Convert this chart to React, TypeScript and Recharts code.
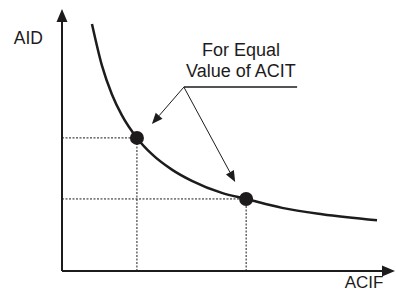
import React from 'react';
import { ComposedChart, Line, Scatter, XAxis, YAxis, ReferenceLine, ReferenceDot } from 'recharts';

// Curve (ACIF on x, AID on y, arbitrary 0-100 units)
const curveACIF = [9.0, 12.0, 15.0, 18.0, 22.5, 27.0, 33.0, 39.0, 48.0, 55.3, 66.1, 78.1, 94.6];
const curveAID = [94.3, 78.4, 67.4, 59.4, 50.8, 44.6, 38.7, 34.4, 29.8, 27.5, 24.1, 21.7, 19.4];

// Two marked points with equal ACIT
const pointACIF = [22.5, 55.3];
const pointAID = [50.8, 27.5];

// Annotation
const noteLines = ['For Equal', 'Value of ACIT'];
const noteAnchor = { x: 53.75, y: 82.1 };
const bracketStart = { x: 36.6, y: 70.2 };
const bracketEnd = { x: 70.6, y: 70.2 };
const arrowTips = [
  { x: 27.0, y: 56.1 },
  { x: 52.0, y: 34.0 },
];
const xLabel = 'ACIF';
const yLabel = 'AID';

const curve = curveACIF.map((x, i) => ({ x, y: curveAID[i] }));
const points = pointACIF.map((x, i) => ({ x, y: pointAID[i] }));

const INK = '#1e1b1c';

const makeArrow = (len: number, half: number) => (props: any) => {
  const { x1, y1, x2, y2, stroke, strokeWidth } = props;
  const ang = Math.atan2(y2 - y1, x2 - x1);
  const bx = x2 - len * Math.cos(ang);
  const by = y2 - len * Math.sin(ang);
  const px = -Math.sin(ang) * half;
  const py = Math.cos(ang) * half;
  return (
    <g>
      <line x1={x1} y1={y1} x2={bx} y2={by} stroke={stroke} strokeWidth={strokeWidth} />
      <polygon points={`${x2},${y2} ${bx + px},${by + py} ${bx - px},${by - py}`} fill={stroke} />
    </g>
  );
};

const axisArrow = makeArrow(13, 5.5);
const noteArrow = makeArrow(11, 4.5);

const textShape = (lines: string[], anchor: string, dx: number, dy: number, size: number, lh: number) => (props: any) => (
  <text
    x={props.cx + dx}
    y={props.cy + dy}
    textAnchor={anchor}
    fontFamily="'Liberation Sans', Arial, sans-serif"
    fontSize={size}
    fill={INK}
  >
    {lines.map((l, i) => (
      <tspan key={i} x={props.cx + dx} dy={i === 0 ? 0 : lh}>
        {l}
      </tspan>
    ))}
  </text>
);

export default function App() {
  return (
    <div style={{ position: 'absolute', left: 0, top: 0, background: '#fff' }}>
      <ComposedChart width={396} height={292} data={curve} margin={{ top: 9, right: 1, bottom: 21, left: 62 }}>
        <XAxis type="number" dataKey="x" domain={[0, 100]} hide />
        <YAxis type="number" dataKey="y" domain={[0, 100]} hide />

        {/* dotted guides */}
        {points.map((p, i) => (
          <ReferenceLine
            key={`h${i}`}
            segment={[{ x: 0, y: p.y }, { x: p.x, y: p.y }]}
            stroke={INK}
            strokeWidth={1}
            strokeDasharray="2 1.5"
          />
        ))}
        {points.map((p, i) => (
          <ReferenceLine
            key={`v${i}`}
            segment={[{ x: p.x, y: 0 }, { x: p.x, y: p.y }]}
            stroke={INK}
            strokeWidth={1}
            strokeDasharray="2 1.5"
          />
        ))}

        {/* axes with arrows */}
        <ReferenceLine segment={[{ x: 0, y: 0 }, { x: 100, y: 0 }]} stroke={INK} strokeWidth={2} shape={axisArrow} />
        <ReferenceLine segment={[{ x: 0, y: 0 }, { x: 0, y: 100 }]} stroke={INK} strokeWidth={2} shape={axisArrow} />

        <Line
          type="monotone"
          dataKey="y"
          stroke={INK}
          strokeWidth={2.5}
          dot={false}
          isAnimationActive={false}
        />
        <Scatter
          data={points}
          dataKey="y"
          isAnimationActive={false}
          shape={(p: any) => <circle cx={p.cx} cy={p.cy} r={7} fill={INK} />}
        />

        {/* annotation */}
        <ReferenceLine segment={[bracketStart, bracketEnd]} stroke={INK} strokeWidth={1.5} />
        {arrowTips.map((t, i) => (
          <ReferenceLine key={`a${i}`} segment={[bracketStart, t]} stroke={INK} strokeWidth={1} shape={noteArrow} />
        ))}
        <ReferenceDot x={noteAnchor.x} y={noteAnchor.y} r={0} shape={textShape(noteLines, 'middle', 0, 0, 18, 21)} />

        <ReferenceDot x={0} y={86.6} r={0} shape={textShape([yLabel], 'end', -19, 0, 17.5, 0)} />
        <ReferenceDot x={90.7} y={0} r={0} shape={textShape([xLabel], 'middle', 0, 17, 17, 0)} />
      </ComposedChart>
    </div>
  );
}
